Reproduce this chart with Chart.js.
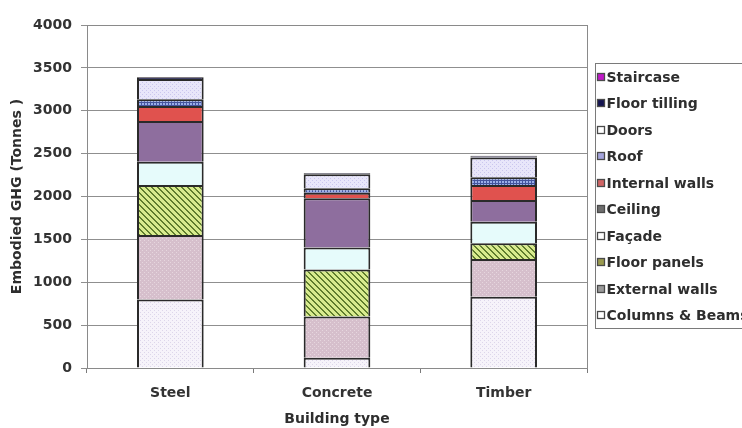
<!DOCTYPE html>
<html>
<head>
<meta charset="utf-8">
<script src="https://cdn.jsdelivr.net/npm/chart.js@4.4.1/dist/chart.umd.min.js"></script>
<style>
  html, body { margin: 0; padding: 0; background: #fff; }
  #caixa { width: 742px; height: 428px; position: relative; }
</style>
</head>
<body>
<div id="caixa"><canvas id="grafico"></canvas></div>
<script>
const ctx = document.getElementById('grafico');

// categorias e valores (toneladas de GHG por componente)
const categorias = ['Steel', 'Concrete', 'Timber'];
const columnsBeams  = [800, 120, 830];
const externalWalls = [750, 480, 440];
const floorPanels   = [585, 550, 185];
const facade        = [270, 255, 250];
const ceiling       = [475, 575, 255];
const internalWalls = [175, 65, 175];
const roof          = [80, 50, 90];
const doors         = [235, 165, 230];
const floorTilling  = [20, 10, 15];
const staircase     = [5, 5, 5];
const eixoY = { min: 0, max: 4000, passo: 500 };

// texturas de preenchimento
function criarPadrao(tam, desenhar) {
    const c = document.createElement('canvas');
    c.width = tam; c.height = tam;
    const g = c.getContext('2d');
    desenhar(g, tam);
    return g.createPattern(c, 'repeat');
}

function pontilhado(fundo, ponto) {
    return criarPadrao(4, (g, t) => {
        g.fillStyle = fundo; g.fillRect(0, 0, t, t);
        g.fillStyle = ponto;
        g.fillRect(0, 0, 1, 1);
        g.fillRect(2, 2, 1, 1);
    });
}

function listrado(fundo, listra) {
    return criarPadrao(6, (g, t) => {
        g.fillStyle = fundo; g.fillRect(0, 0, t, t);
        g.fillStyle = listra;
        for (let y = 0; y < t; y++) {
            for (let x = 0; x < t; x++) {
                if ((x - y + t) % t < 2) g.fillRect(x, y, 1, 1);
            }
        }
    });
}

function quadriculado(fundo, linha) {
    return criarPadrao(3, (g, t) => {
        g.fillStyle = fundo; g.fillRect(0, 0, t, t);
        g.fillStyle = linha;
        g.fillRect(0, 0, t, 1);
        g.fillRect(0, 0, 1, t);
    });
}

function serie(label, data, fundo, corLegenda) {
    return {
        label: label,
        data: data,
        backgroundColor: fundo,
        borderColor: '#2a2a2a',
        borderWidth: 2,
        corLegenda: corLegenda,
        barPercentage: 0.4,
        categoryPercentage: 1.0
    };
}

const datasets = [
    serie('Columns & Beams', columnsBeams, pontilhado('#f6f3fa', '#ddd6ea'), '#ffffff'),
    serie('External walls', externalWalls, pontilhado('#d6bfcc', '#e6d6de'), '#9a9a9a'),
    serie('Floor panels', floorPanels, listrado('#d8eb8e', '#5f7d2e'), '#9a9a4e'),
    serie('Façade', facade, '#e6fbfb', '#ffffff'),
    serie('Ceiling', ceiling, '#8e6e9e', '#6e6e6e'),
    serie('Internal walls', internalWalls, '#e0524e', '#d06464'),
    serie('Roof', roof, quadriculado('#9aaee8', '#44549e'), '#a4a4dc'),
    serie('Doors', doors, pontilhado('#e8e6fa', '#cac6ee'), '#ffffff'),
    serie('Floor tilling', floorTilling, '#16164a', '#141450'),
    serie('Staircase', staircase, '#c020c0', '#c018c8')
];

// moldura da área do gráfico
const moldura = {
    id: 'moldura',
    afterDraw(chart) {
        const g = chart.ctx;
        const a = chart.chartArea;
        g.save();
        g.strokeStyle = '#8a8a8a';
        g.lineWidth = 1;
        g.strokeRect(Math.round(a.left) + 0.5, Math.round(a.top) + 0.5,
            Math.round(a.right - a.left), Math.round(a.bottom - a.top));
        g.restore();
    }
};

// legenda em caixa à direita, ordem invertida
const legendaLateral = {
    id: 'legendaLateral',
    afterDraw(chart) {
        const g = chart.ctx;
        const a = chart.chartArea;
        const x0 = Math.round(a.right) + 8.5;
        const y0 = 63.5;
        const altura = 265;
        const itens = chart.data.datasets.slice().reverse();
        const passo = altura / itens.length;
        g.save();
        g.strokeStyle = '#7a7a7a';
        g.lineWidth = 1;
        g.strokeRect(x0, y0, 200, altura);
        g.font = 'bold 14px "DejaVu Sans"';
        g.textBaseline = 'middle';
        itens.forEach((ds, i) => {
            const cy = Math.round(y0 + passo * (i + 0.5));
            g.fillStyle = ds.corLegenda;
            g.fillRect(x0 + 2, cy - 3.5, 7, 7);
            g.strokeStyle = '#4a4a4a';
            g.lineWidth = 1.3;
            g.strokeRect(x0 + 2, cy - 3.5, 7, 7);
            g.fillStyle = '#2e2e2e';
            g.fillText(ds.label, x0 + 11, cy + 1);
        });
        g.restore();
    }
};

Chart.defaults.font.family = '"DejaVu Sans", sans-serif';
Chart.defaults.font.size = 14;
Chart.defaults.font.weight = 'bold';
Chart.defaults.color = '#333333';

new Chart(ctx, {
    type: 'bar',
    data: {
        labels: categorias,
        datasets: datasets
    },
    options: {
        responsive: true,
        maintainAspectRatio: false,
        animation: false,
        layout: { padding: { left: 0, top: 25, right: 155, bottom: 0 } },
        plugins: {
            legend: { display: false },
            tooltip: { enabled: false }
        },
        scales: {
            x: {
                stacked: true,
                afterFit(scale) { scale.height = 60; },
                grid: { offset: true, drawOnChartArea: false, drawTicks: true, tickLength: 5, color: '#7a7a7a' },
                border: { color: '#7a7a7a', width: 1 },
                ticks: { padding: 12, color: '#333333' },
                title: { display: true, text: 'Building type', padding: { top: 0, bottom: 0 }, color: '#2e2e2e' }
            },
            y: {
                stacked: true,
                min: eixoY.min,
                max: eixoY.max,
                afterFit(scale) { scale.width = 87; },
                grid: { color: '#8f8f8f', lineWidth: 1, drawTicks: true, tickLength: 6 },
                border: { color: '#7a7a7a', width: 1 },
                ticks: { stepSize: eixoY.passo, padding: 9, color: '#333333', callback: (v) => String(v) },
                title: { display: true, text: 'Embodied GHG (Tonnes )', padding: { top: 9, bottom: 0 }, color: '#2e2e2e' }
            }
        }
    },
    plugins: [moldura, legendaLateral]
});
</script>
</body>
</html>
